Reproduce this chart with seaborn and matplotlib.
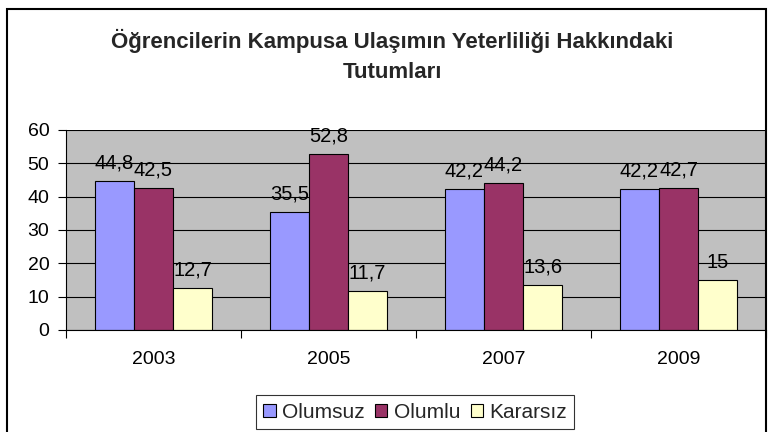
import matplotlib
matplotlib.use("Agg")
import matplotlib.pyplot as plt
import seaborn as sns
import pandas as pd
from matplotlib.patches import Rectangle

years = ["2003", "2005", "2007", "2009"]
series = ["Olumsuz", "Olumlu", "Kararsız"]
olumsuz = [44.8, 35.5, 42.2, 42.2]
olumlu = [42.5, 52.8, 44.2, 42.7]
kararsiz = [12.7, 11.7, 13.6, 15]
colors = ["#9999FF", "#993366", "#FFFFCC"]

rows = []
for name, vals in zip(series, [olumsuz, olumlu, kararsiz]):
    for y, v in zip(years, vals):
        rows.append({"Yıl": y, "Seri": name, "Değer": v})
df = pd.DataFrame(rows)

sns.set_theme(style="white")
plt.rcParams["font.family"] = ["Liberation Sans", "DejaVu Sans"]

fig = plt.figure(figsize=(7.69, 4.32), dpi=100)
ax = fig.add_axes([66/769, 102/432, 700/769, 200/432])
ax.set_facecolor("#C0C0C0")

sns.barplot(data=df, x="Yıl", y="Değer", hue="Seri", palette=colors,
            width=0.67, edgecolor="black", linewidth=0.8, ax=ax, legend=True,
            saturation=1)

for cont in ax.containers:
    labels = [("%g" % b.get_height()).replace(".", ",") for b in cont]
    ax.bar_label(cont, labels=labels, fontsize=14.5, padding=6, color="black")

ax.set_ylim(0, 60)
ax.set_xlim(-0.5, 3.5)
ax.set_yticks(range(0, 61, 10))
ax.yaxis.grid(True, color="black", linewidth=0.8)
ax.set_axisbelow(True)
ax.set_xlabel("")
ax.set_ylabel("")
ax.tick_params(axis="both", labelsize=14, colors="black")
ax.tick_params(axis="y", left=True, length=6, width=0.8, direction="out", pad=6)
ax.tick_params(axis="x", bottom=False, pad=9)
ax.set_xticks([0, 1, 2, 3])
ax.set_xticklabels(years)
ax.set_xticks([-0.5, 0.5, 1.5, 2.5, 3.5], minor=True)
ax.tick_params(axis="x", which="minor", bottom=True, length=6, width=0.8, color="black")
for s in ["top", "right"]:
    ax.spines[s].set_visible(False)
for s in ["left", "bottom"]:
    ax.spines[s].set_color("black")
    ax.spines[s].set_linewidth(0.8)

leg = ax.legend(loc="center", bbox_to_anchor=(415/769, 1 - 412/432),
                bbox_transform=fig.transFigure, ncol=3, fontsize=15,
                frameon=True, fancybox=False, edgecolor="black",
                handlelength=0.6, handleheight=0.6, handletextpad=0.3,
                columnspacing=0.5, borderpad=0.35, borderaxespad=0)
leg.get_frame().set_linewidth(0.8)
for h in leg.legend_handles:
    h.set_edgecolor("black")
    h.set_linewidth(0.8)

fig.suptitle("Öğrencilerin Kampusa Ulaşımın Yeterliliği Hakkındaki\nTutumları",
             x=0.51, y=1 - 29/432, fontsize=16, fontweight="bold",
             va="top", linespacing=1.55)

fig.patches.append(Rectangle((7/769, -0.1), 759/769, 1.1 - 9/432,
                             transform=fig.transFigure, fill=False,
                             edgecolor="black", linewidth=1.5))

fig.savefig("out.png", dpi=100)
